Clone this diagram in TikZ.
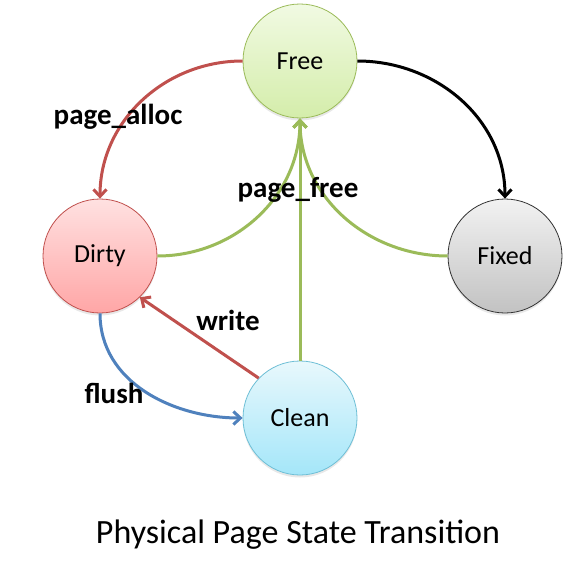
\documentclass[tikz,border=0pt]{standalone}
\usepackage{fontspec}
\setmainfont{Carlito}
\usetikzlibrary{arrows.meta,shadows}
\definecolor{cRed}{HTML}{C0504D}
\definecolor{cGreen}{HTML}{9BBB59}
\definecolor{cBlue}{HTML}{4F81BD}
\definecolor{freeTop}{HTML}{F1FAE3}
\definecolor{freeBot}{HTML}{D4EDAA}
\definecolor{dirtyTop}{HTML}{FFE1E1}
\definecolor{dirtyBot}{HTML}{FFA6A6}
\definecolor{fixedTop}{HTML}{F2F2F2}
\definecolor{fixedBot}{HTML}{C2C2C2}
\definecolor{cleanTop}{HTML}{E8F8FC}
\definecolor{cleanBot}{HTML}{A4E6F9}
\definecolor{cleanLine}{HTML}{6EBFD6}
\begin{document}
\begin{tikzpicture}[x=1pt,y=1pt,
  state/.style={circle, minimum size=114pt, inner sep=0pt, line width=0.8pt,
    font=\fontsize{26}{30}\selectfont,
    drop shadow={opacity=0.18, shadow xshift=0pt, shadow yshift=-2.5pt}},
  edge/.style={line width=3pt, -{Straight Barb[length=7pt,width=13pt]}},
  lbl/.style={font=\fontsize{29}{34}\selectfont\bfseries, inner sep=0pt}]
\useasboundingbox (0,0) rectangle (587,-562);
\fill[white] (0,0) rectangle (587,-562);
\node[state, draw=cGreen, top color=freeTop, bottom color=freeBot] (free) at (300,-61) {Free};
\node[state, draw=cRed, top color=dirtyTop, bottom color=dirtyBot] (dirty) at (100,-256) {Dirty};
\node[state, draw=black!80, top color=fixedTop, bottom color=fixedBot] (fixed) at (505,-256) {Fixed};
\node[state, draw=cleanLine, top color=cleanTop, bottom color=cleanBot] (clean) at (300,-418) {Clean};
\draw[edge, cRed] (free.west) to[out=180,in=90] (dirty.north);
\draw[edge, black] (free.east) to[out=0,in=90] (fixed.north);
\draw[edge, cGreen] (dirty.east) to[out=0,in=-90] (free.south);
\draw[edge, cGreen] (fixed.west) to[out=180,in=-90] (free.south);
\draw[edge, cGreen] (clean.north) -- (free.south);
\draw[edge, cRed] (clean.136) -- (dirty.-46);
\draw[edge, cBlue] (dirty.south) to[out=-90,in=180] (clean.west);
\node[lbl] (lalloc) at (118,-117) {page\_alloc};
\node[lbl] (lfree) at (298,-190) {page\_free};
\node[lbl] (lwrite) at (228,-320) {write};
\node[lbl] (lflush) at (114,-393) {flush};
\node[font=\fontsize{34}{40}\selectfont] (title) at (298,-535) {Physical Page State Transition};
\end{tikzpicture}
\end{document}
